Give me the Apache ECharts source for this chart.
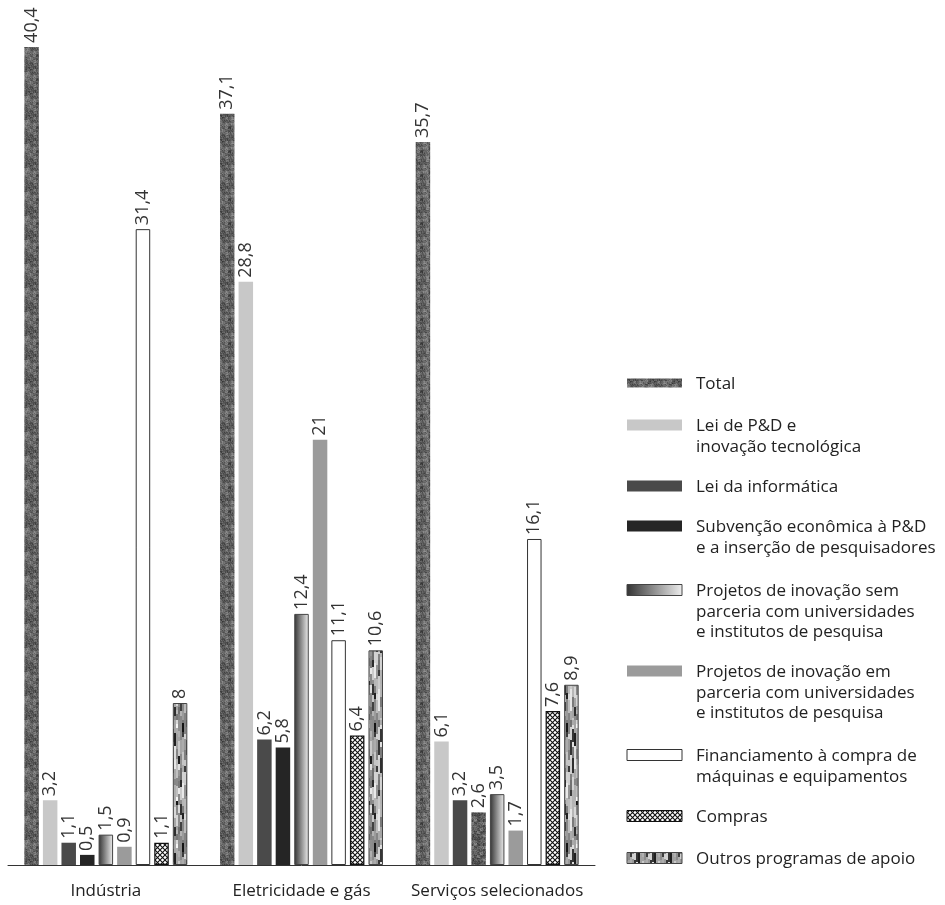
<!DOCTYPE html>
<html lang="pt-BR">
<head>
<meta charset="utf-8">
<title>Programas de apoio à inovação</title>
<script src="https://cdn.jsdelivr.net/npm/echarts@6/dist/echarts.min.js"></script>
<style>
  html, body { margin: 0; padding: 0; background: #ffffff; }
  #chart { width: 945px; height: 905px; }
</style>
</head>
<body>
<div id="chart"></div>
<script>
// Setores (eixo x)
const categories = ['Indústria', 'Eletricidade e gás', 'Serviços selecionados'];

// Nomes das séries, na ordem da legenda
const seriesNames = [
  'Total',
  'Lei de P&D e\ninovação tecnológica',
  'Lei da informática',
  'Subvenção econômica à P&D\ne a inserção de pesquisadores',
  'Projetos de inovação sem\nparceria com universidades\ne institutos de pesquisa',
  'Projetos de inovação em\nparceria com universidades\ne institutos de pesquisa',
  'Financiamento à compra de\nmáquinas e equipamentos',
  'Compras',
  'Outros programas de apoio'
];

// Valores (%) por série, um por setor
const total          = [40.4, 37.1, 35.7];
const leiPD          = [3.2, 28.8, 6.1];
const leiInformatica = [1.1, 6.2, 3.2];
const subvencao      = [0.5, 5.8, 2.6];
const projetosSem    = [1.5, 12.4, 3.5];
const projetosEm     = [0.9, 21, 1.7];
const financiamento  = [31.4, 11.1, 16.1];
const compras        = [1.1, 6.4, 7.6];
const outros         = [8, 10.6, 8.9];

const FONT = 'Open Sans';

// Small deterministic hash for texture generation
function hash(i) {
  const x = Math.sin(i * 12.9898 + 78.233) * 43758.5453;
  return x - Math.floor(x);
}

// Mottled dark texture
function mottledCanvas(seed) {
  const n = 24;
  const c = document.createElement('canvas');
  c.width = n; c.height = n;
  const ctx = c.getContext('2d');
  for (let y = 0; y < n; y++) {
    for (let x = 0; x < n; x++) {
      // blend a coarse and a fine component for a blotchy look
      const coarse = hash(seed + Math.floor(x / 3) * 17 + Math.floor(y / 3) * 91);
      const fine = hash(seed + x * 31 + y * 57);
      const v = Math.round(50 + (0.55 * coarse + 0.45 * fine) * 95);
      ctx.fillStyle = `rgb(${v},${v},${v})`;
      ctx.fillRect(x, y, 1, 1);
    }
  }
  return c;
}

// Crosshatch (diamond) texture
function hatchCanvas() {
  const c = document.createElement('canvas');
  c.width = 5; c.height = 5;
  const ctx = c.getContext('2d');
  ctx.fillStyle = '#ffffff';
  ctx.fillRect(0, 0, 5, 5);
  ctx.strokeStyle = '#111111';
  ctx.lineWidth = 1.1;
  ctx.beginPath();
  ctx.moveTo(-1, -1); ctx.lineTo(6, 6);
  ctx.moveTo(6, -1); ctx.lineTo(-1, 6);
  ctx.stroke();
  return c;
}

// Blocky gray streak texture
function streakCanvas() {
  const w = 16, hgt = 120;
  const c = document.createElement('canvas');
  c.width = w; c.height = hgt;
  const ctx = c.getContext('2d');
  ctx.fillStyle = '#a0a0a0';
  ctx.fillRect(0, 0, w, hgt);
  let k = 0;
  for (let x = 0; x < w; x += 2) {
    let y = -Math.floor(hash(x * 3 + 1) * 8);
    while (y < hgt) {
      const bh = 4 + Math.floor(hash(k * 7 + 3) * 12);
      const r = hash(k * 13 + 5);
      const g = Math.round(r < 0.2 ? 20 + r * 250 : 110 + (r - 0.2) * 170);
      ctx.fillStyle = `rgb(${g},${g},${g})`;
      ctx.fillRect(x, Math.max(0, y), 2, bh);
      y += bh; k++;
    }
  }
  return c;
}

const totalFill = { image: mottledCanvas(1), repeat: 'repeat' };
const comprasFill = { image: hatchCanvas(), repeat: 'repeat' };
const outrosFill = { image: streakCanvas(), repeat: 'repeat' };
const gradientFill = new echarts.graphic.LinearGradient(0, 0, 1, 0, [
  { offset: 0, color: '#333333' },
  { offset: 1, color: '#eeeeee' }
]);

const styles = [
  { color: totalFill },
  { color: '#c8c8c8' },
  { color: '#4a4a4a' },
  { color: '#252525' },
  { color: gradientFill, borderColor: '#444', borderWidth: 1 },
  { color: '#9b9b9b' },
  { color: '#ffffff', borderColor: '#333', borderWidth: 1 },
  { color: comprasFill, borderColor: '#111', borderWidth: 1.2 },
  { color: outrosFill, borderColor: '#444', borderWidth: 1 }
];

const values = [total, leiPD, leiInformatica, subvencao, projetosSem, projetosEm, financiamento, compras, outros];

const fmt = v => String(v).replace('.', ',');

const series = values.map((vals, i) => ({
  name: seriesNames[i],
  type: 'bar',
  barWidth: 14.5,
  barGap: '28%',
  itemStyle: styles[i],
  data: vals.map((v, j) => {
    // the services subsidy bar is drawn with the mottled texture
    if (i === 3 && j === 2) return { value: v, itemStyle: { color: { image: mottledCanvas(9), repeat: 'repeat' } } };
    return v;
  }),
  label: {
    show: true,
    position: 'top',
    rotate: 90,
    align: 'left',
    verticalAlign: 'middle',
    distance: 4,
    fontFamily: FONT,
    fontSize: 18,
    color: '#333',
    formatter: p => fmt(p.value)
  }
}));

// Legend drawn as graphic elements so the swatch lines up with the first text line
const legendTops = [385, 427, 488, 528, 592, 673, 757, 818, 860];
const legendGraphics = [];
seriesNames.forEach((name, i) => {
  const cy = legendTops[i];
  const st = styles[i];
  const h = i === 0 ? 9 : 11;
  legendGraphics.push({
    type: 'rect',
    shape: { x: 627, y: cy - 2 - h / 2, width: 55, height: h },
    style: {
      fill: st.color,
      stroke: st.borderColor || null,
      lineWidth: st.borderColor ? 1 : 0
    }
  });
  legendGraphics.push({
    type: 'text',
    x: 696,
    y: cy - 11,
    style: {
      text: name,
      font: `17px "${FONT}"`,
      fill: '#222',
      lineHeight: 20.5
    }
  });
});

const chart = echarts.init(document.getElementById('chart'), null, { renderer: 'canvas' });
chart.setOption({
  backgroundColor: '#ffffff',
  animation: false,
  grid: { left: 8, right: 350, top: 14.5, bottom: 40, containLabel: false },
  xAxis: {
    type: 'category',
    data: categories,
    axisLine: { lineStyle: { color: '#333', width: 1 } },
    axisTick: { show: false },
    axisLabel: { interval: 0, fontFamily: FONT, fontSize: 17, color: '#222', margin: 18 }
  },
  yAxis: { type: 'value', min: 0, max: 42, show: false, splitLine: { show: false } },
  series: series,
  graphic: legendGraphics
});
</script>
</body>
</html>
